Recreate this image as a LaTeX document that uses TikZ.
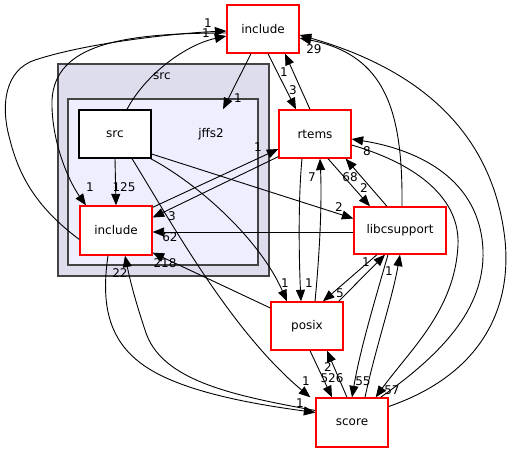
\documentclass[tikz,border=0pt]{standalone}
\usepackage{fontspec}
\setmainfont{DejaVu Sans}
\usetikzlibrary{arrows.meta,calc}
\definecolor{outerfill}{HTML}{DDDDEE}
\definecolor{innerfill}{HTML}{EEEEFF}
\definecolor{clusterline}{HTML}{444444}
\begin{document}
\begin{tikzpicture}[x=1pt,y=-1pt,
  dirbox/.style={draw=red,fill=white,line width=1.3pt,inner sep=0pt,minimum width=72pt,minimum height=48pt,font=\fontsize{12}{14}\selectfont},
  srcbox/.style={draw=black,fill=white,line width=1.3pt,inner sep=0pt,minimum width=72pt,minimum height=48pt,font=\fontsize{12}{14}\selectfont},
  cluster/.style={draw=clusterline,line width=1.5pt,inner sep=0pt},
  clabel/.style={inner sep=0pt,font=\fontsize{12}{14}\selectfont},
  elabel/.style={inner sep=0pt,font=\fontsize{12}{14}\selectfont},
  dep/.style={draw=black,line width=0.9pt,-{Triangle[length=11.5pt,width=9pt]}}]
\useasboundingbox (0,0) rectangle (512,452);
\fill[white] (0,0) rectangle (512,452);
% clusters
\node[cluster,fill=outerfill,minimum width=211pt,minimum height=212pt] (outer) at (163.5,170) {};
\node[clabel] (outerlbl) at (162,76) {src};
\node[cluster,fill=innerfill,minimum width=190pt,minimum height=166pt] (jffs2) at (163,182) {};
\node[clabel] (jffslbl) at (211,134) {jffs2};
% nodes
\node[dirbox] (inctop) at (263,29) {include};
\node[dirbox] (rtems) at (315,134) {rtems};
\node[dirbox,minimum width=92pt,minimum height=47pt] (libc) at (400,230.5) {libcsupport};
\node[dirbox] (posix) at (307,326) {posix};
\node[dirbox,minimum height=49pt] (score) at (352,422.5) {score};
\node[dirbox,minimum height=49pt] (inc) at (116,230.5) {include};
\node[srcbox] (src) at (115,134) {src};
% edges
\draw[dep] ($(inctop.south)+(-12,0)$) -- ($(jffs2.north)+(60,11)$);
\draw[dep] ($(src.north)+(12,0)$) .. controls (145,75) and (185,45) .. ($(inctop.west)+(0,7)$);
\draw[dep] ($(inc.west)+(0,9)$) .. controls (40,210) and (20,180) .. (10,140) .. controls (0,105) and (5,70) .. (35,60) .. controls (90,42) and (180,33) .. ($(inctop.west)+(0,2)$);
\draw[dep] ($(inctop.west)+(0,4)$) .. controls (120,33) and (55,45) .. (52,100) .. controls (51,140) and (68,180) .. ($(inc.north)+(-30,0)$);
\draw[dep] (src.south) -- (inc.north);
\draw[dep] ($(src.east)+(0,20)$) -- ($(libc.west)+(0,-12)$);
\draw[dep] ($(src.south east)+(-1,0)$) .. controls (200,185) and (260,240) .. ($(posix.north)+(-20,0)$);
\draw[dep] ($(src.south)+(17,0)$) .. controls (170,220) and (230,330) .. ($(score.north west)+(-5,0)$);
\draw[dep] ($(inc.south)+(-8,0)$) .. controls (100,310) and (110,350) .. (160,375) .. controls (200,395) and (260,405) .. ($(score.west)+(0,-10)$);
\draw[dep] ($(score.west)+(0,-12)$) .. controls (230,395) and (160,380) .. (145,330) .. controls (135,300) and (130,280) .. ($(inc.south)+(9,0)$);
\draw[dep] ($(libc.west)+(0,1.5)$) -- ($(inc.east)+(0,1.5)$);
\draw[dep] ($(posix.west)+(0,-18)$) -- ($(inc.south east)+(0,-3)$);
\draw[dep] ($(inc.north east)+(0,2)$) -- ($(rtems.west)+(0,15)$);
\draw[dep] ($(rtems.south west)+(0,-2)$) -- ($(inc.east)+(0,-13)$);
\draw[dep] ($(inctop.south)+(5,0)$) -- ($(rtems.north)+(-19,0)$);
\draw[dep] ($(rtems.north)+(-5,0)$) -- ($(inctop.south)+(22,0)$);
\draw[dep] ($(rtems.south)+(-13,0)$) .. controls (298,200) and (299,260) .. ($(posix.north)+(-6,0)$);
\draw[dep] ($(posix.north)+(8,0)$) .. controls (320,250) and (322,200) .. ($(rtems.south)+(5,0)$);
\draw[dep] ($(rtems.south)+(13,0)$) -- ($(libc.north)+(-30,0)$);
\draw[dep] ($(libc.north)+(-13,0)$) -- ($(rtems.south east)+(-6,0)$);
\draw[dep] ($(libc.north)+(2,0)$) .. controls (403,110) and (385,55) .. ($(inctop.east)+(0,9)$);
\draw[dep] ($(score.east)+(0,-16)$) .. controls (480,375) and (512,310) .. (505,240) .. controls (495,150) and (440,75) .. ($(inctop.east)+(0,6)$);
\draw[dep] ($(score.north east)+(-8,0)$) .. controls (440,355) and (485,310) .. (483,250) .. controls (480,180) and (420,150) .. ($(rtems.east)+(0,5)$);
\draw[dep] ($(rtems.east)+(0,11)$) .. controls (420,165) and (460,200) .. (458,245) .. controls (455,310) and (410,350) .. ($(score.north east)+(-13,0)$);
\draw[dep] ($(libc.south)+(-23,0)$) -- ($(posix.north)+(16,0)$);
\draw[dep] ($(posix.north east)+(-5,0)$) -- ($(libc.south)+(-15,0)$);
\draw[dep] ($(libc.south)+(-12,0)$) .. controls (375,300) and (360,350) .. (score.north);
\draw[dep] ($(score.north)+(13,0)$) .. controls (375,350) and (392,300) .. (libc.south);
\draw[dep] ($(posix.south)+(3,0)$) -- ($(score.north)+(-20,0)$);
\draw[dep] ($(score.north)+(-5,0)$) -- ($(posix.south)+(20,0)$);
% edge labels
\node[elabel] (l1) at (238,98) {1};
\node[elabel] (l2) at (208,23) {1};
\node[elabel] (l3) at (206,33) {1};
\node[elabel] (l4) at (90,187) {1};
\node[elabel] (l5) at (124,187) {125};
\node[elabel] (l6) at (339,207) {2};
\node[elabel] (l7) at (285,283) {1};
\node[elabel] (l8) at (306,381) {1};
\node[elabel] (l9) at (300,403) {1};
\node[elabel] (l10) at (120,273) {22};
\node[elabel] (l11) at (170,237) {62};
\node[elabel] (l12) at (165,263) {218};
\node[elabel] (l13) at (258,147) {1};
\node[elabel] (l14) at (172,216) {3};
\node[elabel] (l15) at (293,90) {3};
\node[elabel] (l16) at (284,72) {1};
\node[elabel] (l17) at (309,283) {1};
\node[elabel] (l18) at (312,177) {7};
\node[elabel] (l19) at (364,188) {2};
\node[elabel] (l20) at (350,177) {68};
\node[elabel] (l21) at (314,49) {29};
\node[elabel] (l23) at (367,151) {8};
\node[elabel] (l24) at (392,390) {57};
\node[elabel] (l25) at (340,293) {5};
\node[elabel] (l26) at (366,262) {1};
\node[elabel] (l27) at (363,381) {55};
\node[elabel] (l28) at (389,271) {1};
\node[elabel] (l29) at (332,378) {526};
\node[elabel] (l30) at (328,367) {2};
\end{tikzpicture}
\end{document}
